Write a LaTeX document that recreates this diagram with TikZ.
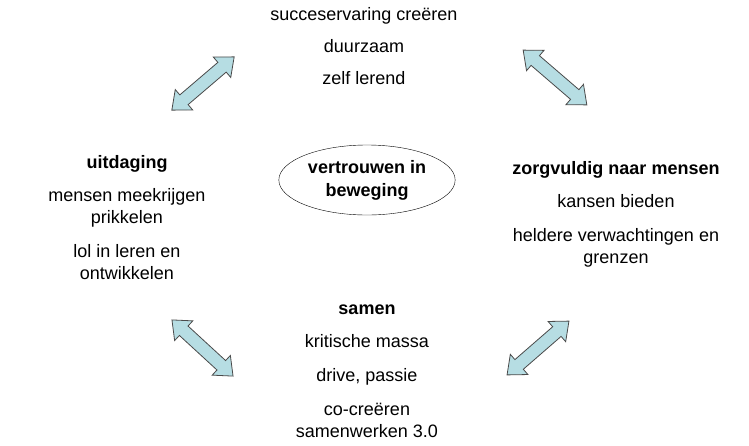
\documentclass[tikz,border=0pt]{standalone}
\usepackage{fontspec}
\setmainfont{Liberation Sans}
\usetikzlibrary{shapes.geometric,shapes.arrows}
\definecolor{VtrBlue}{HTML}{B6DDE3}
\definecolor{VtrGrey}{HTML}{4A4A4A}

\begin{document}
\begin{tikzpicture}[x=1pt,y=-1pt,
    txt/.style={align=center,anchor=base,font=\fontsize{18}{22}\selectfont},
    dblarrow/.style={shape=double arrow,draw=VtrGrey,fill=VtrBlue,thick,
      inner sep=6pt,double arrow head extend=7pt,double arrow tip angle=80}]
  \useasboundingbox (0,0) rectangle (749,445);
  % centre
  \node[ellipse,draw,thin,minimum width=152pt,minimum height=70pt,
    font=\fontsize{18}{23}\selectfont\bfseries,align=center] (kern) at (367,180)
    {vertrouwen in\\beweging};
  % four groups (anchored at the baseline of their last line)
  \node[txt] (boven) at (364,84)
    {succeservaring creëren\\[10pt] duurzaam\\[10pt] zelf lerend};
  \node[txt] (links) at (127,279)
    {\textbf{uitdaging}\\[11pt] mensen meekrijgen\\ prikkelen\\[12pt] lol in leren en\\ ontwikkelen};
  \node[txt] (rechts) at (616,263)
    {\textbf{zorgvuldig naar mensen}\\[11pt] kansen bieden\\[12pt] heldere verwachtingen en\\ grenzen};
  \node[txt] (onder) at (367,437)
    {\textbf{samen}\\[11pt] kritische massa\\[12pt] drive, passie\\[12pt] co-creëren\\ samenwerken 3.0};
  % arrows
  \node[dblarrow,rotate=40.5,minimum height=82pt] (pijlLB) at (203,83.5) {};
  \node[dblarrow,rotate=-40.7,minimum height=84pt] (pijlRB) at (555,77.5) {};
  \node[dblarrow,rotate=-42.6,minimum height=83pt] (pijlLO) at (202.5,348) {};
  \node[dblarrow,rotate=41,minimum height=82pt] (pijlRO) at (538,348) {};
\end{tikzpicture}
\end{document}
